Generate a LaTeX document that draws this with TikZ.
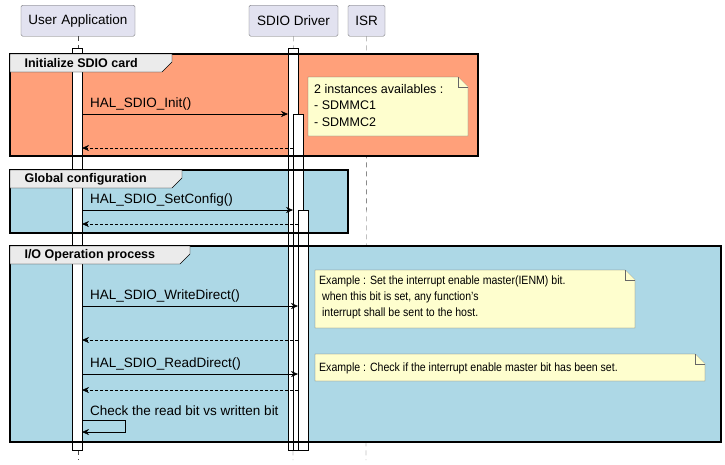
\documentclass[tikz,border=0pt]{standalone}
\usepackage{fontspec}
\setmainfont{Liberation Sans}
\usetikzlibrary{positioning, calc, arrows.meta}
\definecolor{salmon}{HTML}{FFA07A}
\definecolor{lblue}{HTML}{ADD8E6}
\definecolor{partfill}{HTML}{E2E2F0}
\definecolor{notefill}{HTML}{FEFECE}
\begin{document}
\begin{tikzpicture}[x=1pt, y=-1pt, font=\fontsize{13.5}{16}\selectfont]
  \tikzstyle{part}=[draw=black!60, fill=partfill, rounded corners=1.5pt, minimum height=31pt, inner xsep=6pt, anchor=north]
  \tikzstyle{life}=[draw=black!70, dashed, dash pattern=on 5pt off 4pt, thin]
  \tikzstyle{act}=[draw=black, fill=white, thin]
  \tikzstyle{msg}=[draw=black, -{Stealth[length=7pt, width=6pt]}, thin]
  \tikzstyle{ret}=[msg, densely dashed]
  \tikzstyle{grp}=[draw=black, very thick]
  \tikzstyle{tab}=[draw=black, fill=black!8, thin]
  \tikzstyle{note}=[draw=black!60, fill=notefill, thin]
  \tikzstyle{lbl}=[anchor=south west, inner sep=0pt, yshift=4pt, xshift=8pt]
  \tikzstyle{gtitle}=[anchor=west, font=\fontsize{12.5}{15}\selectfont\bfseries]
  \useasboundingbox (0,0) rectangle (725,464);

  % participants
  \node (user) at (78,5) [part, minimum width=114pt, text width=102pt, align=center, inner xsep=0pt] {User Application};
  \node (drv) at (293.5,5) [part, minimum width=89pt, inner xsep=0pt] {SDIO Driver};
  \node (isr) at (366.5,5) [part, minimum width=37pt, inner xsep=0pt] {ISR};
  \draw[life] (user.south) -- (78,460);
  \draw[life] (drv.south) -- (293,460);
  \draw[life] (isr.south) -- (366,460);

  % group backgrounds
  \fill[salmon] (10,54) rectangle (478,156);
  \fill[lblue] (10,170) rectangle (348,233);
  \fill[lblue] (10,246) rectangle (721,442);

  % activations
  \draw[act] (72,48) rectangle (82,450);
  \draw[act] (288,48) rectangle (298,450);
  \draw[act] (293,114) rectangle (303,450);
  \draw[act] (298,210) rectangle (308,450);

  % group frames and tabs
  \draw[grp] (10,54) rectangle (478,156);
  \draw[tab] (10,54) -- (172,54) -- (172,62) -- (162,72) -- (10,72) -- cycle;
  \node at (21,63) [gtitle] {Initialize SDIO card};
  \draw[grp] (10,170) rectangle (348,233);
  \draw[tab] (10,170) -- (182,170) -- (182,178) -- (172,188) -- (10,188) -- cycle;
  \node at (21,179) [gtitle] {Global configuration};
  \draw[grp] (10,246) rectangle (721,442);
  \draw[tab] (10,246) -- (190,246) -- (190,254) -- (180,264) -- (10,264) -- cycle;
  \node at (21,255) [gtitle] {I/O Operation process};

  % notes
  \draw[note] (308,77) -- (458,77) -- (468,87) -- (468,136) -- (308,136) -- cycle;
  \draw[note] (458,77) -- (458,87) -- (468,87);
  \node (note1) at (314,84) [anchor=north west, align=left, inner sep=0pt, font=\fontsize{12.5}{16.5}\selectfont] {2 instances availables :\\- SDMMC1\\- SDMMC2};
  \draw[note] (315,270) -- (625,270) -- (635,280) -- (635,328) -- (315,328) -- cycle;
  \draw[note] (625,270) -- (625,280) -- (635,280);
  \node (note2) at (319,276) [anchor=north west, align=left, inner sep=0pt, font=\fontsize{12}{16}\selectfont] {\scalebox{0.88}[1]{Example : Set the interrupt enable master(IENM) bit.}\\\scalebox{0.88}[1]{\ when this bit is set, any function's}\\\scalebox{0.88}[1]{\ interrupt shall be sent to the host.}};
  \draw[note] (315,354) -- (695,354) -- (705,364) -- (705,381) -- (315,381) -- cycle;
  \draw[note] (695,354) -- (695,364) -- (705,364);
  \node (note3) at (319,368) [anchor=west, inner sep=0pt, font=\fontsize{12}{16}\selectfont] {\scalebox{0.88}[1]{Example : Check if the interrupt enable master bit has been set.}};

  % messages
  \coordinate (u1) at (82,114); \coordinate (d1) at (288,114);
  \draw[msg] (u1) -- (d1);
  \node at (u1) [lbl] {HAL\_SDIO\_Init()};
  \coordinate (u2) at (82,148); \coordinate (d2) at (293,148);
  \draw[ret] (d2) -- (u2);
  \coordinate (u3) at (82,210); \coordinate (d3) at (293,210);
  \draw[msg] (u3) -- (d3);
  \node at (u3) [lbl] {HAL\_SDIO\_SetConfig()};
  \coordinate (u4) at (82,224); \coordinate (d4) at (298,224);
  \draw[ret] (d4) -- (u4);
  \coordinate (u5) at (82,306); \coordinate (d5) at (298,306);
  \draw[msg] (u5) -- (d5);
  \node at (u5) [lbl] {HAL\_SDIO\_WriteDirect()};
  \coordinate (u6) at (82,340); \coordinate (d6) at (298,340);
  \draw[ret] (d6) -- (u6);
  \coordinate (u7) at (82,374); \coordinate (d7) at (298,374);
  \draw[msg] (u7) -- (d7);
  \node at (u7) [lbl] {HAL\_SDIO\_ReadDirect()};
  \coordinate (u8) at (82,390); \coordinate (d8) at (298,390);
  \draw[ret] (d8) -- (u8);
  \coordinate (u9) at (82,420); \coordinate (u10) at (82,432);
  \node at (u9) [lbl] {Check the read bit vs written bit};
  \draw[msg] (u9) -- ++(43,0) |- (u10);
\end{tikzpicture}
\end{document}
